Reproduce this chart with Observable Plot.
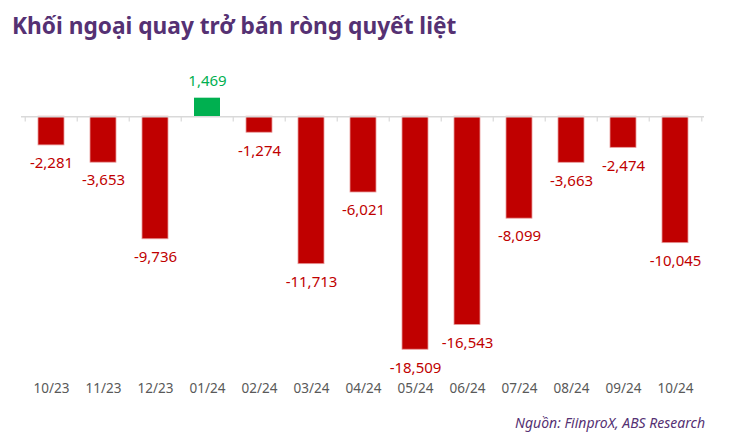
<!DOCTYPE html>
<html><head><meta charset="utf-8">
<script src="https://cdn.jsdelivr.net/npm/d3@7"></script>
<script src="https://cdn.jsdelivr.net/npm/@observablehq/plot@0.6"></script>
<style>
body{margin:0;background:#fff;width:730px;height:432px;overflow:hidden;font-family:"Noto Sans",sans-serif;position:relative;}
#title{position:absolute;left:12px;top:10px;font-size:22.7px;font-weight:700;color:#553173;white-space:nowrap;}
#chart{position:absolute;left:0;top:50px;}
#caption{position:absolute;right:25px;top:413px;font-size:14px;font-style:italic;color:#553173;white-space:nowrap;}
</style></head>
<body>
<div id="title">Khối ngoại quay trở bán ròng quyết liệt</div>
<div id="chart"></div>
<div id="caption">Nguồn: FiinproX, ABS Research</div>
<script>
const months = ["10/23","11/23","12/23","01/24","02/24","03/24","04/24","05/24","06/24","07/24","08/24","09/24","10/24"];
const values = [-2281,-3653,-9736,1469,-1274,-11713,-6021,-18509,-16543,-8099,-3663,-2474,-10045];

const data = months.map((m,i)=>({month:m, value:values[i]}));
const neg = data.filter(d => d.value < 0);
const pos = data.filter(d => d.value >= 0);
const fmt = v => (v<0?"-":"") + d3.format(",")(Math.abs(v));
const W = 730, ML = 21, MR = 26;
const step = (W - ML - MR) / months.length;
const red = "#C00000", green = "#00B050";

const chart = Plot.plot({
  width: W, height: 350,
  marginLeft: ML, marginRight: MR, marginTop: 41, marginBottom: 32,
  style: {fontFamily: "'Noto Sans', sans-serif", background: "transparent"},
  x: {domain: months, paddingInner: 0.5, paddingOuter: 0.25, label: null},
  y: {domain: [-20000, 2000], axis: null},
  marks: [
    Plot.barY(neg, {x: "month", y: "value", fill: red, stroke: "#E89A9A", strokeWidth: 0.8}),
    Plot.barY(pos, {x: "month", y: "value", fill: green}),
    Plot.ruleY([0], {stroke: "#D9D9D9", strokeWidth: 1.5}),
    Plot.ruleX(months, {x: d => d, y1: 0, y2: -420, dx: -step/2, stroke: "#D9D9D9", strokeWidth: 1.2}),
    Plot.ruleX([months[months.length-1]], {x: d => d, y1: 0, y2: -420, dx: step/2, stroke: "#D9D9D9", strokeWidth: 1.2}),
    Plot.text(neg, {x: "month", y: "value", text: d => fmt(d.value), dy: 18, fill: red, fontSize: 15, lineAnchor: "middle"}),
    Plot.text(pos, {x: "month", y: "value", text: d => fmt(d.value), dy: -17, fill: green, fontSize: 15, lineAnchor: "middle"}),
    Plot.axisX({tickSize: 0, tickPadding: 15, fontSize: 13.5, color: "#595959", label: null})
  ]
});
document.getElementById("chart").appendChild(chart);
</script>
</body></html>
